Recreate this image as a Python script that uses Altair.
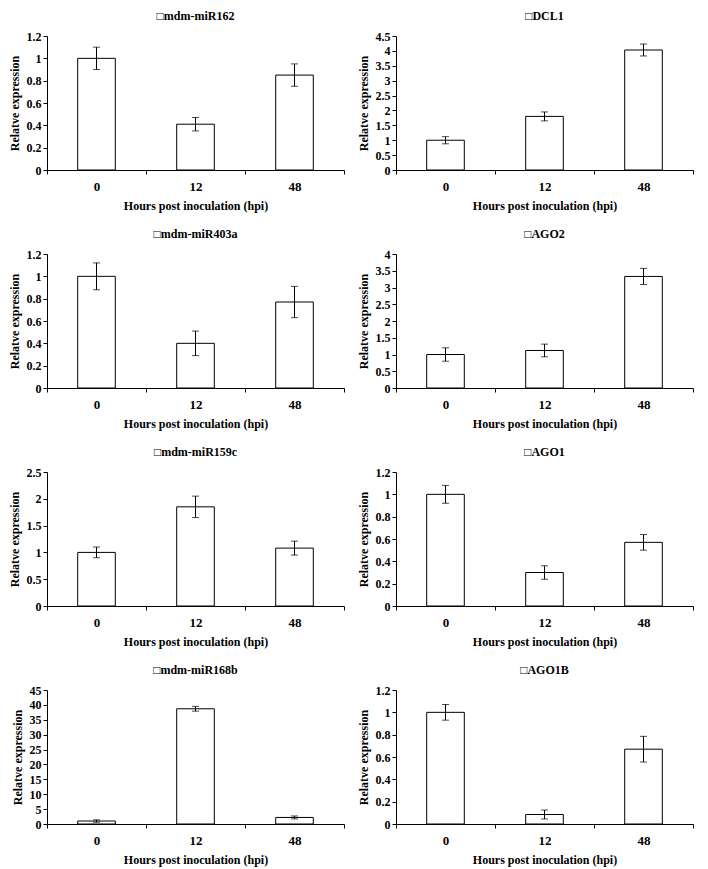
import altair as alt
import pandas as pd

# ---- data ----
genes = ["mdm-miR162", "DCL1", "mdm-miR403a", "AGO2",
         "mdm-miR159c", "AGO1", "mdm-miR168b", "AGO1B"]
hpi = ["0", "12", "48"]

miR162_mean = [1.00, 0.41, 0.85]
miR162_err = [0.10, 0.06, 0.10]
DCL1_mean = [1.00, 1.80, 4.03]
DCL1_err = [0.12, 0.15, 0.20]
miR403a_mean = [1.00, 0.40, 0.77]
miR403a_err = [0.12, 0.11, 0.14]
AGO2_mean = [1.00, 1.12, 3.33]
AGO2_err = [0.20, 0.19, 0.24]
miR159c_mean = [1.00, 1.85, 1.08]
miR159c_err = [0.10, 0.20, 0.13]
AGO1_mean = [1.00, 0.30, 0.57]
AGO1_err = [0.08, 0.06, 0.07]
miR168b_mean = [1.0, 38.7, 2.2]
miR168b_err = [0.4, 0.8, 0.5]
AGO1B_mean = [1.00, 0.085, 0.67]
AGO1B_err = [0.07, 0.04, 0.115]

means = [miR162_mean, DCL1_mean, miR403a_mean, AGO2_mean,
         miR159c_mean, AGO1_mean, miR168b_mean, AGO1B_mean]
errs = [miR162_err, DCL1_err, miR403a_err, AGO2_err,
        miR159c_err, AGO1_err, miR168b_err, AGO1B_err]
ymax = [1.2, 4.5, 1.2, 4, 2.5, 1.2, 45, 1.2]
ystep = [0.2, 0.5, 0.2, 0.5, 0.5, 0.2, 5, 0.2]

FONT = "Liberation Serif"
YTITLE = "Relatve expression"
XTITLE = "Hours post inoculation  (hpi)"


def panel(i):
    df = pd.DataFrame({
        "hpi": hpi,
        "mean": means[i],
        "lo": [m - e for m, e in zip(means[i], errs[i])],
        "hi": [m + e for m, e in zip(means[i], errs[i])],
    })
    n = int(round(ymax[i] / ystep[i]))
    vals = [round(k * ystep[i], 4) for k in range(n + 1)]
    x = alt.X("hpi:N", sort=hpi, title=XTITLE,
              scale=alt.Scale(paddingInner=0, paddingOuter=0),
              axis=alt.Axis(labelAngle=0, tickBand="extent", tickSize=4,
                            labelPadding=6, labelFontSize=13, titlePadding=7,
                            titleFontSize=12))
    yscale = alt.Scale(domain=[0, ymax[i]], nice=False)
    yaxis = alt.Axis(values=vals, labelExpr="format(datum.value, '~g')",
                     labelOverlap=False, tickSize=4, labelFontSize=12,
                     titleFontSize=12, titlePadding=5, title=YTITLE)
    bars = alt.Chart(df).mark_bar(
        fill="white", stroke="black", strokeWidth=1,
        width=alt.RelativeBandSize(0.38)
    ).encode(
        x=x,
        y=alt.Y("mean:Q", scale=yscale, axis=yaxis),
    )
    err = alt.Chart(df).mark_errorbar(ticks={"size": 7}, color="black", thickness=1).encode(
        x=x,
        y=alt.Y("lo:Q", scale=yscale, axis=yaxis),
        y2="hi:Q",
    )
    return alt.layer(bars, err, title=alt.Title("\u25a1" + genes[i])).properties(
        width=297, height=134)


rows = [alt.hconcat(panel(2 * r), panel(2 * r + 1), spacing=12) for r in range(4)]
chart = alt.vconcat(*rows, spacing=17).properties(
    padding={"left": 0, "top": 2, "right": 0, "bottom": 4}
).configure_view(
    stroke=None
).configure_axis(
    grid=False, domainColor="black", tickColor="black", labelColor="black",
    titleColor="black", labelFont=FONT, titleFont=FONT,
    labelFontWeight="bold", titleFontWeight="bold", domainWidth=1, tickWidth=1
).configure_title(
    font=FONT, fontWeight="bold", fontSize=12, color="black", offset=7
)

chart.save("out.html", embed_options={"renderer": "svg", "actions": False})
